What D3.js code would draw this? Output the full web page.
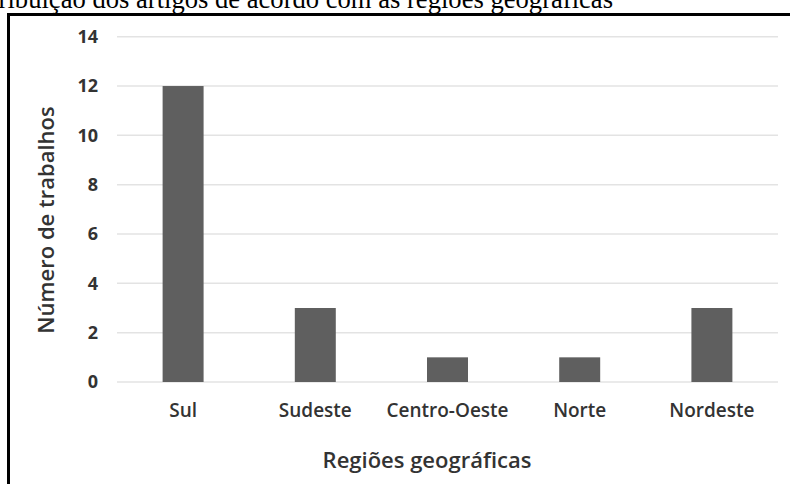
<!DOCTYPE html>
<html><head><meta charset="utf-8">
<script src="https://cdn.jsdelivr.net/npm/d3@7"></script>
<style>body{margin:0;background:#fff;overflow:hidden}svg{display:block}</style>
</head><body><svg id="c" width="790" height="484"></svg>
<script>
const categories = ["Sul","Sudeste","Centro-Oeste","Norte","Nordeste"];
const values = [12,3,1,1,3];
const yTicks = [0,2,4,6,8,10,12,14];
const title = "Distribuição dos artigos de acordo com as regiões geográficas";
const xTitle = "Regiões geográficas";
const yTitle = "Número de trabalhos";

const svg = d3.select("#c");
const L = 117, R = 778, T = 36.7, B = 382;
const x = d3.scaleBand().domain(categories).range([L, R]).paddingInner(0.69).paddingOuter(0.345);
const y = d3.scaleLinear().domain([0,14]).range([B, T]);
const SANS = "'Open Sans','Noto Sans',sans-serif";

// title (cut off at top/left as in the reference)
svg.append("text").attr("x",613).attr("y",8).attr("text-anchor","end")
  .attr("font-family","'Liberation Serif','Times New Roman',serif").attr("font-size",26.6).attr("fill","#000").text(title);

// frame
svg.append("rect").attr("x",10).attr("y",16).attr("width",780).attr("height",468).attr("fill","#fff");
svg.append("path").attr("d", `M8.5,484 V14.5 H790`).attr("fill","none").attr("stroke","#000").attr("stroke-width",3);

// gridlines
svg.append("g").selectAll("line").data(yTicks).join("line")
  .attr("x1",L).attr("x2",R).attr("y1",d=>y(d)).attr("y2",d=>y(d))
  .attr("stroke","#e3e3e3").attr("stroke-width",1.5);

// y axis labels
const yAxis = d3.axisLeft(y).tickValues(yTicks).tickSize(0).tickPadding(0);
const gy = svg.append("g").attr("transform",`translate(98,0)`).call(yAxis);
gy.select(".domain").remove();
gy.selectAll("text").attr("font-family",SANS).attr("font-weight","bold")
  .attr("font-size",18).attr("fill","#333");

// bars
svg.append("g").selectAll("rect").data(values).join("rect")
  .attr("x",(d,i)=>x(categories[i])).attr("width",x.bandwidth())
  .attr("y",d=>y(d)).attr("height",d=>y(0)-y(d)).attr("fill","#5f5f5f");

// x axis labels
const xAxis = d3.axisBottom(x).tickSize(0).tickPadding(0);
const gx = svg.append("g").attr("transform",`translate(0,${B})`).call(xAxis);
gx.select(".domain").remove();
gx.selectAll("text").attr("dy",null).attr("y",35).attr("font-family",SANS).attr("font-weight","600")
  .attr("font-size",19).attr("fill","#333");

// axis titles
svg.append("text").attr("x",427).attr("y",468).attr("text-anchor","middle")
  .attr("font-family",SANS).attr("font-weight","600").attr("font-size",22).attr("fill","#333").text(xTitle);
svg.append("text").attr("transform","translate(54,220) rotate(-90)").attr("text-anchor","middle")
  .attr("font-family",SANS).attr("font-weight","600").attr("font-size",22).attr("fill","#333").text(yTitle);
</script></body></html>
